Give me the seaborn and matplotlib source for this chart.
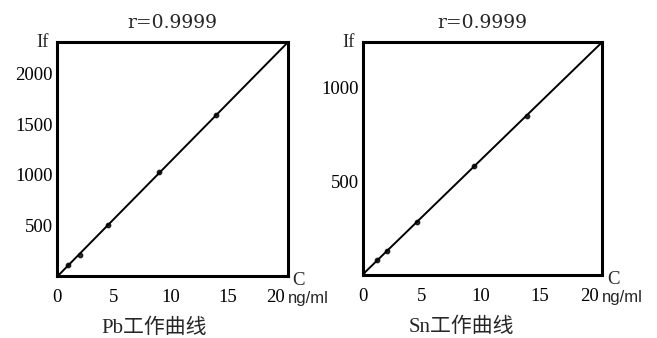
import numpy as np
import pandas as pd
import seaborn as sns
import matplotlib.pyplot as plt

# calibration points
pb_conc = [0, 1, 2, 4.5, 9, 14]
pb_if = [0, 110, 210, 500, 1030, 1590]
sn_conc = [0, 1.2, 2, 4.6, 9.4, 13.9]
sn_if = [0, 80, 130, 285, 580, 850]

x_ticks = [0, 5, 10, 15, 20]
pb_yticks = [500, 1000, 1500, 2000]
sn_yticks = [500, 1000]
titles = ["r=0.9999", "r=0.9999"]
labels = ["Pb工作曲线", "Sn工作曲线"]

sns.set_theme(style="white")
plt.rcParams["font.family"] = ["Liberation Serif", "Noto Sans CJK SC"]

fig = plt.figure(figsize=(6.57, 3.38), dpi=100)
ax1 = fig.add_axes([0.0868, 0.1834, 0.3516, 0.692])
ax2 = fig.add_axes([0.5525, 0.186, 0.3638, 0.689])

panels = [
    (ax1, pb_conc, pb_if, pb_yticks, titles[0], labels[0], 0.42),
    (ax2, sn_conc, sn_if, sn_yticks, titles[1], labels[1], 0.41),
]

xmax = 20.3
for ax, xs, ys, yt, title, lab, lab_x in panels:
    df = pd.DataFrame({"C": xs, "If": ys})
    slope, icpt = np.polyfit(df["C"], df["If"], 1)
    ax.set_xlim(0, xmax)
    ax.set_ylim(0, slope * xmax + icpt)
    sns.regplot(data=df, x="C", y="If", ax=ax, ci=None, truncate=False,
                color="black", scatter_kws={"s": 10},
                line_kws={"lw": 1.4})
    ax.set_xlim(0, xmax)
    ax.set_ylim(0, slope * xmax + icpt)
    ax.set_xticks(x_ticks)
    ax.set_yticks(yt)
    ax.set_xlabel("")
    ax.set_ylabel("")
    for sp in ax.spines.values():
        sp.set_linewidth(2.2)
        sp.set_color("black")
    ax.tick_params(axis="both", direction="in", length=3, width=1.2,
                   labelsize=13.5, colors="black")
    ax.tick_params(axis="x", pad=9)
    ax.tick_params(axis="y", pad=3)
    # last x label sits flush against the right edge, as in the scan
    ax.get_xticklabels()[-1].set_horizontalalignment("right")
    ax.set_title(title, fontsize=13.5, pad=10, family="DejaVu Serif")
    ax.text(-0.035, 1.0, "If", transform=ax.transAxes, ha="right",
            va="center", fontsize=13.5)
    ax.text(1.02, -0.02, "C", transform=ax.transAxes, ha="left",
            va="center", fontsize=13.5)
    ax.text(1.0, -0.095, "ng/ml", transform=ax.transAxes, ha="left",
            va="center", fontsize=12, family="Liberation Sans")
    ax.text(lab_x, -0.225, lab, transform=ax.transAxes, ha="center",
            va="center", fontsize=15)

plt.savefig("out.png", dpi=100)
